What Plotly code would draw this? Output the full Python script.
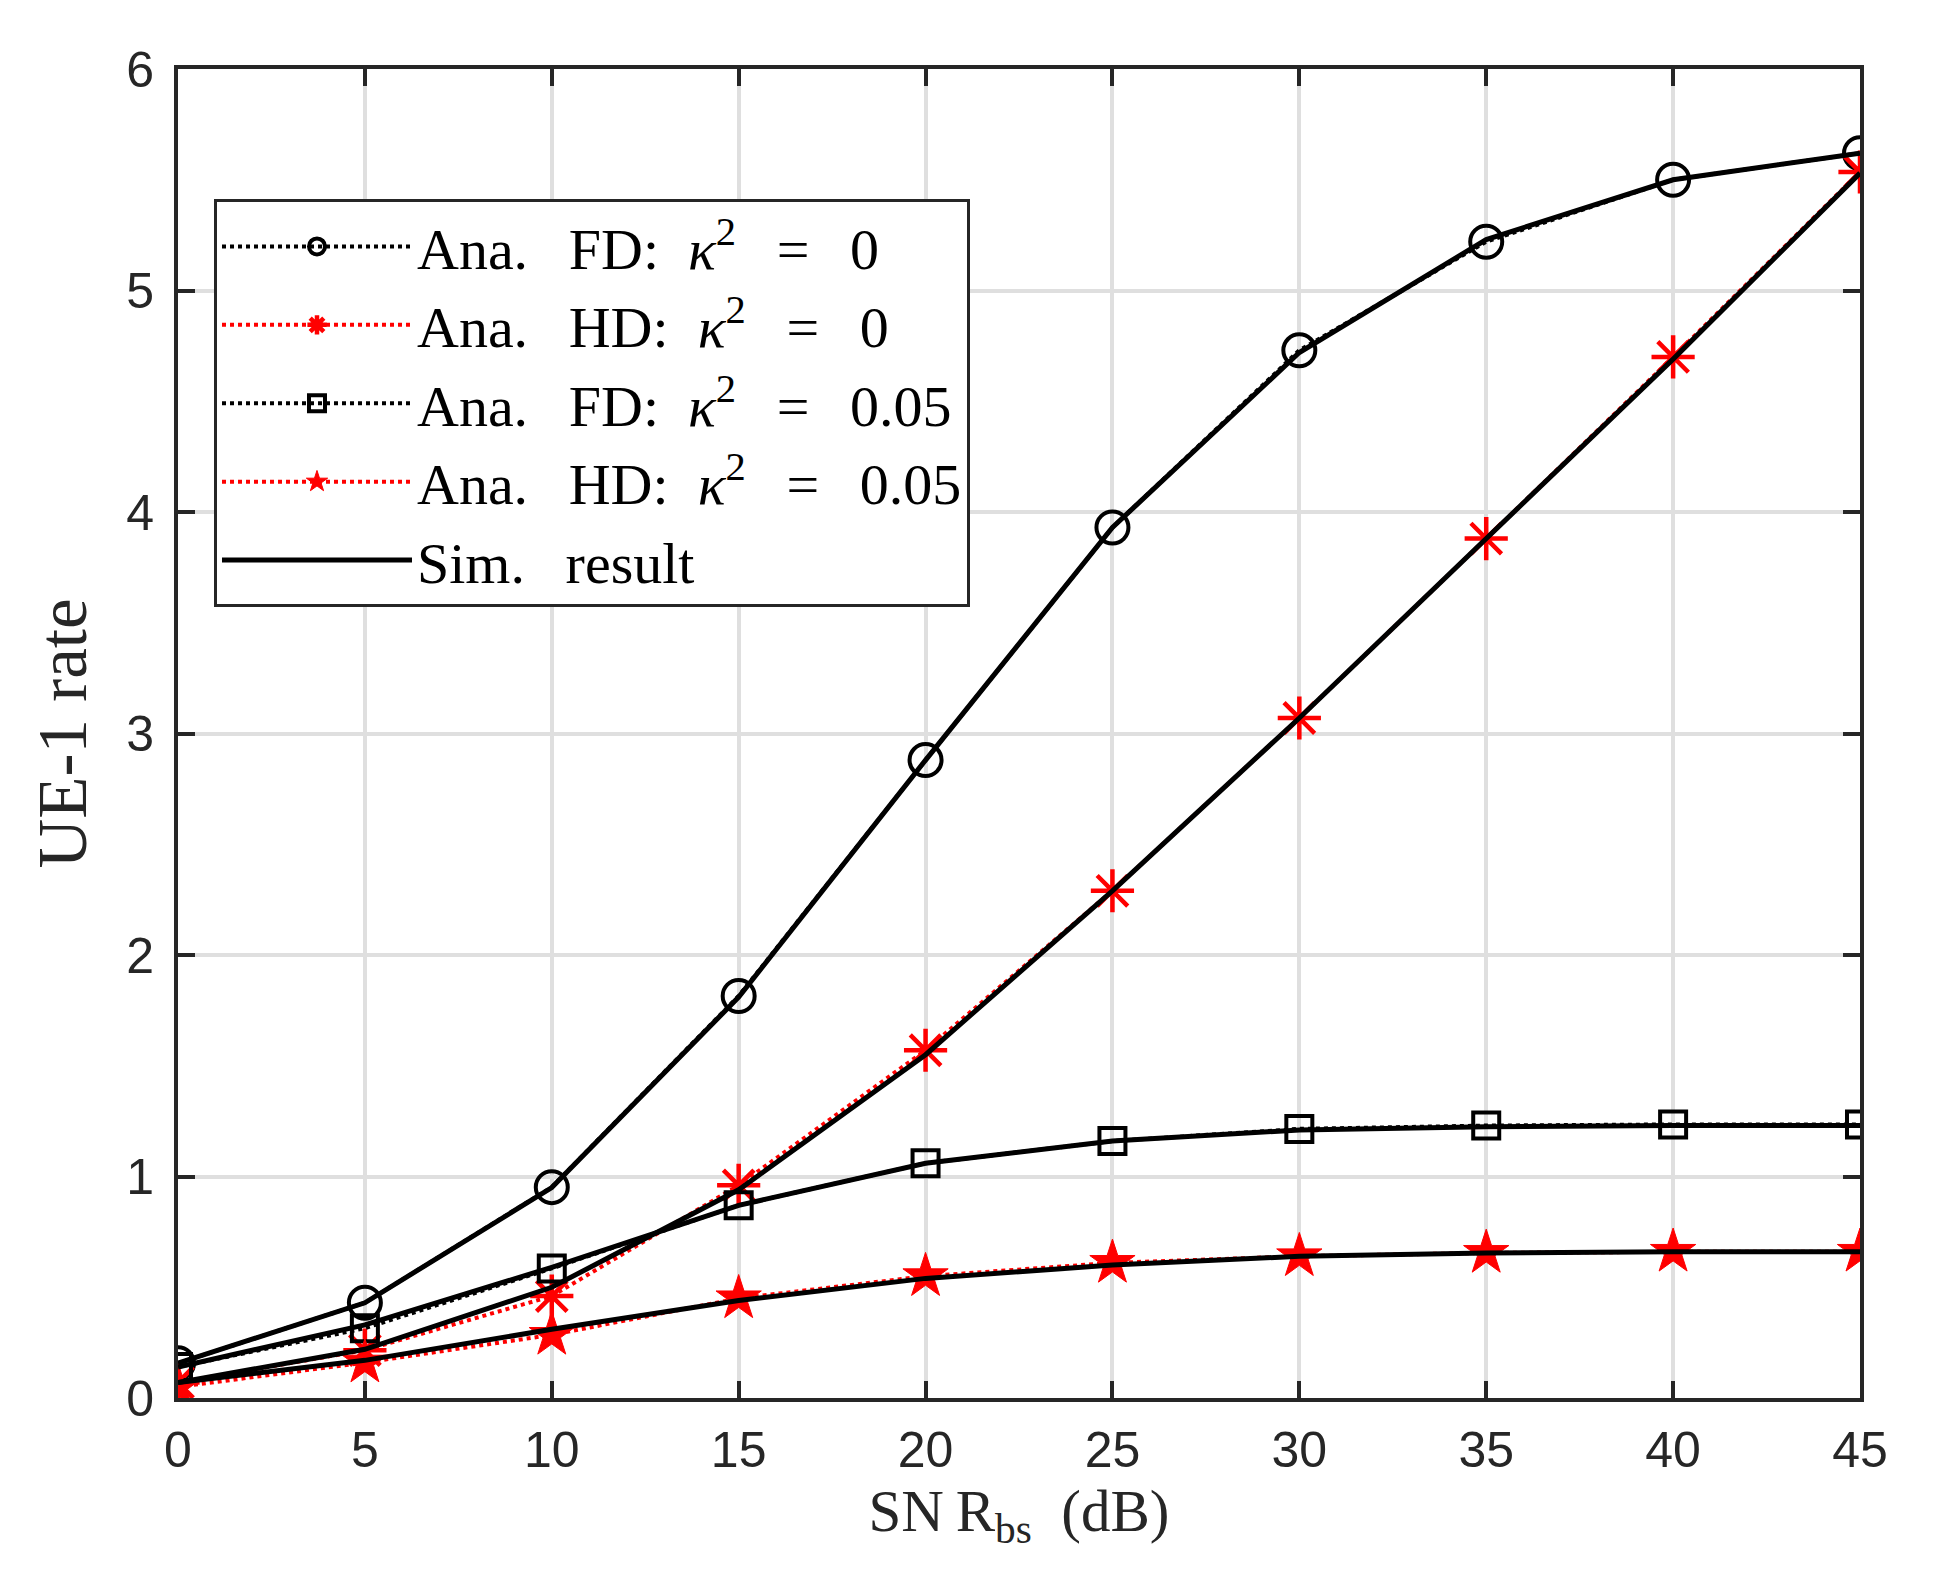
import plotly.graph_objects as go

snr = [0, 5, 10, 15, 20, 25, 30, 35, 40, 45]

ana_fd_k0 = [0.157, 0.43, 0.952, 1.815, 2.88, 3.93, 4.73, 5.22, 5.50, 5.62]
ana_hd_k0 = [0.07, 0.216, 0.46, 0.96, 1.57, 2.29, 3.07, 3.88, 4.70, 5.535]
ana_fd_k05 = [0.14, 0.315, 0.585, 0.87, 1.06, 1.16, 1.215, 1.23, 1.235, 1.235]
ana_hd_k05 = [0.05, 0.16, 0.285, 0.45, 0.55, 0.61, 0.64, 0.655, 0.66, 0.66]

sim_fd_k0 = [0.157, 0.43, 0.95, 1.81, 2.88, 3.93, 4.72, 5.23, 5.50, 5.62]
sim_hd_k0 = [0.07, 0.22, 0.50, 0.94, 1.55, 2.29, 3.07, 3.88, 4.69, 5.53]
sim_fd_k05 = [0.14, 0.33, 0.59, 0.87, 1.06, 1.16, 1.21, 1.225, 1.23, 1.23]
sim_hd_k05 = [0.07, 0.17, 0.31, 0.44, 0.54, 0.60, 0.64, 0.655, 0.66, 0.66]

G = "\u2002\u2009"
legend_names = [
    f"Ana.{G}FD:\u2002<i>κ</i><sup>2</sup>{G}={G}0",
    f"Ana.{G}HD:\u2002<i>κ</i><sup>2</sup>{G}={G}0",
    f"Ana.{G}FD:\u2002<i>κ</i><sup>2</sup>{G}={G}0.05",
    f"Ana.{G}HD:\u2002<i>κ</i><sup>2</sup>{G}={G}0.05",
    f"Sim.{G}result",
]

x_ticks = [0, 5, 10, 15, 20, 25, 30, 35, 40, 45]
y_ticks = [0, 1, 2, 3, 4, 5, 6]

AX = "#262626"
GRID = "#dfdfdf"
RED = "#ff0000"
SERIF = "Liberation Serif"

fig = go.Figure()

ana_specs = [
    (ana_fd_k0, "black", "circle-open", 32, 4),
    (ana_hd_k0, RED, "asterisk-open", 36, 4.5),
    (ana_fd_k05, "black", "square-open", 26, 4),
    (ana_hd_k05, RED, "star", 34, 1),
]
for (vals, col, sym, sz, mlw), name in zip(ana_specs, legend_names[:4]):
    fig.add_trace(go.Scatter(
        x=snr, y=vals, name=name, mode="lines+markers",
        line=dict(color=col, width=4, dash="dot"),
        marker=dict(symbol=sym, size=sz, color=col,
                    line=dict(color=col, width=mlw)),
    ))

for i, vals in enumerate([sim_fd_k0, sim_hd_k0, sim_fd_k05, sim_hd_k05]):
    fig.add_trace(go.Scatter(
        x=snr, y=vals, name=legend_names[4], mode="lines",
        line=dict(color="black", width=5),
        showlegend=(i == 0),
    ))

fig.update_layout(
    width=1949, height=1575,
    margin=dict(l=170, r=97, t=61, b=185),
    paper_bgcolor="white", plot_bgcolor="white",
    font=dict(family="Liberation Sans", color=AX),
    showlegend=True,
    legend=dict(
        x=0.0214, y=0.902, xanchor="left", yanchor="top",
        bgcolor="white", bordercolor=AX, borderwidth=3,
        font=dict(family=SERIF, size=58, color="black"),
        itemwidth=190, tracegroupgap=0,
    ),
)

fig.update_xaxes(
    range=[0, 45], tickvals=x_ticks, ticktext=[str(v) for v in x_ticks],
    showline=True, linewidth=4, linecolor=AX, mirror="ticks",
    ticks="inside", ticklen=17, tickwidth=4, tickcolor=AX,
    showgrid=True, gridcolor=GRID, gridwidth=4, zeroline=False,
    tickfont=dict(family="Liberation Sans", size=50, color=AX),
    ticklabelstandoff=5,
    title=dict(text="SN\u2009R<sub>bs</sub>  (dB)", font=dict(family=SERIF, size=59, color=AX), standoff=12),
)
fig.update_yaxes(
    range=[0, 6], tickvals=y_ticks, ticktext=[str(v) for v in y_ticks],
    showline=True, linewidth=4, linecolor=AX, mirror="ticks",
    ticks="inside", ticklen=17, tickwidth=4, tickcolor=AX,
    showgrid=True, gridcolor=GRID, gridwidth=4, zeroline=False,
    tickfont=dict(family="Liberation Sans", size=50, color=AX),
    ticklabelstandoff=10,
    title=dict(text="UE-1 rate", font=dict(family=SERIF, size=69, color=AX), standoff=18),
)

fig.write_html("out.html")
